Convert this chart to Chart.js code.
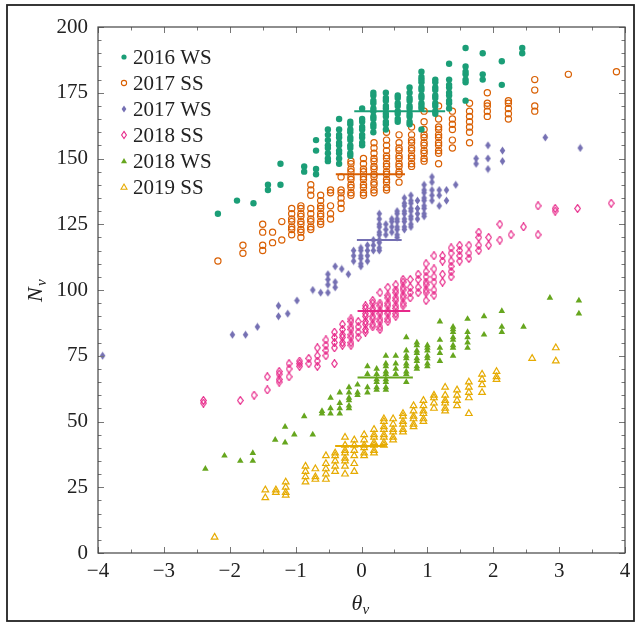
<!DOCTYPE html>
<html>
<head>
<meta charset="utf-8">
<script src="https://cdn.jsdelivr.net/npm/chart.js@4.4.1/dist/chart.umd.min.js"></script>
<style>
  html, body { margin: 0; padding: 0; background: #fff; }
  #wrap { position: relative; width: 637px; height: 625px; }
</style>
</head>
<body>
<div id="wrap"><canvas id="c"></canvas></div>
<script>
// columns of theta, and the N values found in each column
const ws16Theta = [-2.18, -1.89, -1.64, -1.42, -1.23, -0.87, -0.69, -0.51, -0.34, -0.17, 0.01, 0.18, 0.37, 0.55, 0.73, 0.91, 1.12, 1.33, 1.58, 1.84, 2.13, 2.44];
const ws16N = [[129], [134], [133], [138, 140], [140, 148], [145, 147], [144, 146, 153, 157],
  [149, 150, 152, 154, 155, 157, 159, 161], [148, 150, 152, 153, 155, 156, 158, 159, 161, 165],
  [151, 152, 154, 155, 157, 158, 160, 161, 163, 164], [155, 156, 158, 159, 161, 162, 164, 165, 169],
  [160, 162, 163, 165, 166, 168, 169, 171, 172, 174, 175], [161, 163, 164, 166, 167, 169, 170, 172, 173, 175],
  [164, 165, 167, 168, 170, 171, 173, 174], [163, 164, 166, 167, 169, 170, 172, 173, 175, 177],
  [161, 169, 170, 171, 173, 174, 176, 177, 179, 180, 181, 183], [167, 168, 170, 171, 173, 174, 176, 177, 179, 180],
  [169, 171, 172, 174, 175, 177, 178, 180, 186], [172, 179, 180, 182, 183, 185, 192],
  [180, 182, 190], [178, 187], [190, 192]];

const ss17Theta = [-2.18, -1.80, -1.50, -1.35, -1.21, -1.06, -0.92, -0.77, -0.62, -0.47, -0.31, -0.16, 0.03, 0.19, 0.38, 0.57, 0.76, 0.95, 1.17, 1.38, 1.64, 1.91, 2.23, 2.63, 3.14, 3.87];
const ss17N = [[111], [114, 117], [115, 117, 122, 125], [118, 122], [119, 126], [121, 123, 124, 126, 127, 129, 131],
  [120, 122, 123, 125, 126, 128, 129, 131, 132], [123, 124, 126, 127, 129, 131, 136, 138, 140],
  [125, 126, 128, 129, 131, 132, 134, 136], [127, 129, 132, 137, 138], [131, 133, 135, 137, 138, 143],
  [136, 137, 139, 140, 142, 143, 145, 146, 148, 149], [136, 137, 139, 140, 142, 143, 145, 146, 148, 150],
  [137, 138, 140, 141, 143, 144, 146, 147, 149, 150, 152, 154, 156],
  [138, 139, 141, 142, 144, 145, 147, 148, 150, 151, 153, 155, 157, 160],
  [141, 144, 145, 147, 148, 150, 151, 153, 154, 156, 159], [147, 148, 150, 151, 153, 154, 156, 157, 159, 162],
  [149, 150, 152, 153, 155, 156, 158, 159, 161, 164, 168], [148, 152, 153, 155, 156, 158, 159, 161, 162, 165, 170],
  [154, 157, 161, 163, 165, 168], [156, 160, 162, 164, 166, 168, 171],
  [166, 168, 170, 171, 175], [165, 167, 169, 171, 172], [168, 170, 176, 180], [182], [183]];

const ws17Theta = [-3.93, -1.96, -1.76, -1.58, -1.26, -1.12, -0.98, -0.74, -0.62, -0.51, -0.40, -0.30, -0.20, -0.12, -0.01, 0.09, 0.18, 0.27, 0.37, 0.46, 0.54, 0.65, 0.75, 0.85, 0.95, 1.07, 1.18, 1.29, 1.43, 1.74, 1.92, 2.14, 2.79, 3.32];
const ws17N = [[75], [83], [83], [86], [90, 94], [91], [96], [100], [99], [99, 102, 104, 106], [101, 103, 109], [108], [106],
  [111, 113, 115], [109, 110, 112, 113, 115, 116], [111, 113, 115, 117], [115, 117, 119],
  [115, 116, 118, 119, 121, 122, 124, 125, 127, 129], [121, 123, 125], [122, 124, 126, 127],
  [120, 121, 123, 124, 126, 127, 129, 130], [123, 124, 126, 127, 129, 130, 132, 133, 135],
  [124, 125, 127, 128, 130, 131, 133, 134, 136], [127, 129, 131, 134],
  [128, 129, 131, 132, 134, 135, 137, 138, 140], [134, 136, 138, 141, 143], [132, 136, 138], [134, 138], [140],
  [148, 150], [146, 150, 155], [149, 153], [158], [154]];

const ss18Theta = [-2.40, -1.84, -1.63, -1.43, -1.25, -1.10, -0.94, -0.80, -0.67, -0.54, -0.41, -0.29, -0.16, -0.05, 0.06, 0.17, 0.28, 0.40, 0.52, 0.63, 0.74, 0.86, 0.98, 1.10, 1.23, 1.36, 1.49, 1.63, 1.78, 1.93, 2.10, 2.27, 2.46, 2.68, 2.94, 3.28, 3.79];
const ss18N = [[57, 58], [58], [60], [62, 67], [65, 66, 68, 69], [67, 70, 72], [71, 72, 73], [72, 74], [71, 73, 75, 78],
  [75, 77, 79, 81], [72, 78, 80, 82, 84], [79, 80, 82, 83, 85, 87], [79, 80, 82, 83, 85, 86, 88, 89], [82, 84, 86, 88],
  [84, 85, 87, 88, 90, 91, 93, 94], [86, 87, 89, 90, 92, 93, 95, 96], [85, 86, 88, 89, 91, 92, 94, 95, 99],
  [88, 89, 91, 92, 94, 95, 97, 98, 101], [90, 91, 93, 94, 96, 97, 99, 100, 102], [94, 95, 97, 98, 100, 101, 103, 104],
  [97, 99, 101, 104], [99, 101, 104, 106], [96, 99, 100, 102, 103, 105, 107, 110], [98, 100, 103, 105, 108, 113],
  [103, 106, 111, 113], [105, 107, 109, 111, 114, 116], [111, 113, 115, 117], [112, 114, 117], [115, 117, 120, 122],
  [117, 120], [119, 125], [121], [124], [121, 132], [130, 131], [131], [133]];

const ws18Theta = [-2.37, -2.08, -1.84, -1.65, -1.31, -1.16, -1.02, -0.87, -0.74, -0.60, -0.47, -0.33, -0.19, -0.06, 0.09, 0.23, 0.37, 0.52, 0.68, 0.84, 1.00, 1.19, 1.39, 1.61, 1.86, 2.13, 2.46, 2.86, 3.30];
const ws18N = [[32], [37], [35], [35, 38], [43], [42, 48], [45], [52], [45], [53, 54], [53, 55, 59], [53, 55, 57, 61],
  [55, 56, 58, 59, 61, 63], [60, 61, 64], [61, 63, 68, 71], [62, 63, 65, 66, 68, 70],
  [62, 63, 65, 66, 68, 69, 71, 72, 75], [68, 70, 72, 75], [65, 68, 69, 71, 72, 74, 75, 77, 82],
  [70, 71, 73, 74, 76, 77, 79, 80], [71, 72, 74, 75, 77, 78, 79], [73, 76, 78, 81, 88],
  [75, 78, 79, 81, 82, 84, 85, 86], [78, 80, 82, 84, 89], [83, 90], [84, 86, 92], [86], [97], [91, 96]];

const ss19Theta = [-2.23, -1.46, -1.30, -1.15, -0.85, -0.70, -0.54, -0.40, -0.25, -0.11, 0.04, 0.19, 0.34, 0.48, 0.63, 0.79, 0.94, 1.10, 1.27, 1.45, 1.63, 1.83, 2.05, 2.59, 2.95];
const ss19N = [[6], [21, 24], [23, 24], [22, 23, 25, 27], [27, 29, 31, 33], [28, 29, 32], [28, 30, 32, 34, 37],
  [31, 33, 35, 37, 38], [30, 33, 35, 36, 38, 39, 41, 44], [31, 34, 37, 39, 41, 43], [37, 38, 40, 41, 43, 45],
  [38, 39, 41, 42, 44, 45, 47], [41, 42, 44, 45, 47, 48, 50, 51], [43, 44, 46, 47, 49, 51], [46, 47, 49, 50, 52, 53],
  [48, 49, 51, 52, 54, 56], [50, 51, 53, 54, 56, 58], [55, 57, 59, 60], [54, 55, 57, 58, 60, 63], [56, 58, 60, 62],
  [53, 59, 61, 63, 65], [61, 64, 66, 68], [66, 67, 69], [74], [73, 78]];

// short horizontal lines (one per series)
const meanFrom = [-0.11, -0.39, -0.07, -0.06, -0.06, -0.40];
const meanTo = [1.27, 0.66, 0.61, 0.74, 0.78, 0.37];
const meanN = [168, 144, 119, 92, 66.7, 40.7];

const seriesNames = ['2016 WS', '2017 SS', '2017 WS', '2018 SS', '2018 WS', '2019 SS'];
const colors = ['#1b9e77', '#d95f02', '#7570b3', '#e7298a', '#66a61e', '#e6ab02'];
const xTicks = [-4, -3, -2, -1, 0, 1, 2, 3, 4];

function toPoints(thetas, ns) {
  return thetas.flatMap((t, i) => ns[i].map(n => ({x: t, y: n})));
}

function diamondImg(color, filled) {
  const c = document.createElement('canvas');
  c.width = 7; c.height = 9;
  const g = c.getContext('2d');
  g.beginPath();
  g.moveTo(3.5, 0.6); g.lineTo(6.3, 4.5); g.lineTo(3.5, 8.4); g.lineTo(0.7, 4.5); g.closePath();
  if (filled) { g.fillStyle = color; g.fill(); }
  else { g.strokeStyle = color; g.lineWidth = 1.2; g.stroke(); }
  return c;
}

const allData = [
  toPoints(ws16Theta, ws16N), toPoints(ss17Theta, ss17N), toPoints(ws17Theta, ws17N),
  toPoints(ss18Theta, ss18N), toPoints(ws18Theta, ws18N), toPoints(ss19Theta, ss19N)
];
const styles = [
  {pointStyle: 'circle', pointRadius: 3.2, fill: true},
  {pointStyle: 'circle', pointRadius: 3.1, fill: false},
  {pointStyle: diamondImg(colors[2], true), pointRadius: 3, fill: true},
  {pointStyle: diamondImg(colors[3], false), pointRadius: 3, fill: false},
  {pointStyle: 'triangle', pointRadius: 3.8, fill: true},
  {pointStyle: 'triangle', pointRadius: 3.8, fill: false}
];

const datasets = [];
allData.forEach((pts, i) => {
  datasets.push({
    label: seriesNames[i],
    data: pts,
    pointStyle: styles[i].pointStyle,
    pointRadius: styles[i].pointRadius,
    borderColor: colors[i],
    backgroundColor: styles[i].fill ? colors[i] : 'rgba(0,0,0,0)',
    borderWidth: styles[i].fill ? 0 : 1.2,
    showLine: false
  });
});
meanN.forEach((n, i) => {
  datasets.push({
    label: 'mean ' + seriesNames[i],
    data: [{x: meanFrom[i], y: n}, {x: meanTo[i], y: n}],
    showLine: true,
    borderColor: colors[i],
    borderWidth: 2,
    pointRadius: 0
  });
});

const FONT = '"Liberation Serif", "Times New Roman", serif';

function drawMarker(ctx, i, x, y) {
  ctx.save();
  ctx.fillStyle = colors[i];
  ctx.strokeStyle = colors[i];
  ctx.lineWidth = 1.1;
  ctx.beginPath();
  if (i < 2) {
    ctx.arc(x, y, 2.6, 0, Math.PI * 2);
  } else if (i < 4) {
    ctx.moveTo(x, y - 3.6); ctx.lineTo(x + 2.4, y); ctx.lineTo(x, y + 3.6); ctx.lineTo(x - 2.4, y); ctx.closePath();
  } else {
    ctx.moveTo(x, y - 3); ctx.lineTo(x + 3, y + 2.2); ctx.lineTo(x - 3, y + 2.2); ctx.closePath();
  }
  if (i % 2 === 0) ctx.fill(); else ctx.stroke();
  ctx.restore();
}

const decor = {
  id: 'decor',
  afterDraw(chart) {
    const ctx = chart.ctx;
    const a = chart.chartArea;
    const xs = chart.scales.x, ys = chart.scales.y;
    ctx.save();
    // ticks pointing inward
    ctx.strokeStyle = '#777';
    ctx.lineWidth = 1;
    for (let v = 0; v <= 200; v += 5) {
      const py = Math.round(ys.getPixelForValue(v)) + 0.5;
      const len = v % 25 === 0 ? 6 : 3.5;
      ctx.beginPath();
      ctx.moveTo(a.left, py); ctx.lineTo(a.left + len, py);
      ctx.moveTo(a.right, py); ctx.lineTo(a.right - len, py);
      ctx.stroke();
    }
    for (let v = -4; v <= 4; v += 0.5) {
      const px = Math.round(xs.getPixelForValue(v)) + 0.5;
      const len = Number.isInteger(v) ? 6 : 3.5;
      ctx.beginPath();
      ctx.moveTo(px, a.bottom); ctx.lineTo(px, a.bottom - len);
      ctx.moveTo(px, a.top); ctx.lineTo(px, a.top + len);
      ctx.stroke();
    }
    // plot box
    ctx.strokeStyle = '#444';
    ctx.lineWidth = 1.2;
    ctx.strokeRect(a.left, a.top, a.right - a.left, a.bottom - a.top);
    // outer frame
    ctx.strokeStyle = '#222';
    ctx.lineWidth = 1.8;
    ctx.strokeRect(7, 5, 627, 616);

    // legend
    ctx.fillStyle = '#222';
    ctx.font = '21px ' + FONT;
    ctx.textBaseline = 'middle';
    ctx.textAlign = 'left';
    seriesNames.forEach((name, i) => {
      const y = 57 + i * 26;
      drawMarker(ctx, i, 124, y);
      ctx.fillText(name, 133, y + 1);
    });

    // axis titles
    ctx.textBaseline = 'alphabetic';
    ctx.font = 'italic 22px ' + FONT;
    const cx = (a.left + a.right) / 2;
    ctx.fillText('θ', cx - 10, 610);
    ctx.font = 'italic 15px ' + FONT;
    ctx.fillText('ν', cx + 1, 614);
    ctx.translate(42, (a.top + a.bottom) / 2);
    ctx.rotate(-Math.PI / 2);
    ctx.font = 'italic 22px ' + FONT;
    ctx.fillText('N', -12, 0);
    ctx.font = 'italic 15px ' + FONT;
    ctx.fillText('ν', 4, 4);
    ctx.restore();
  }
};

new Chart(document.getElementById('c'), {
  type: 'scatter',
  data: {datasets: datasets},
  options: {
    responsive: true,
    maintainAspectRatio: false,
    animation: false,
    devicePixelRatio: 1,
    layout: {padding: {left: 0, top: 27, right: 12, bottom: 0}},
    plugins: {legend: {display: false}, tooltip: {enabled: false}},
    scales: {
      x: {
        type: 'linear', min: -4, max: 4,
        afterBuildTicks: s => { s.ticks = xTicks.map(v => ({value: v})); },
        afterFit: s => { s.height = 72; },
        grid: {display: false, drawTicks: false},
        border: {display: false},
        ticks: {
          padding: 6, color: '#222', font: {family: FONT, size: 21},
          maxRotation: 0,
          callback: v => v < 0 ? '\u2212' + Math.abs(v) : String(v)
        }
      },
      y: {
        type: 'linear', min: 0, max: 200,
        afterFit: s => { s.width = 98; },
        grid: {display: false, drawTicks: false},
        border: {display: false},
        ticks: {stepSize: 25, padding: 10, color: '#222', font: {family: FONT, size: 21}}
      }
    }
  },
  plugins: [decor]
});
</script>
</body>
</html>
